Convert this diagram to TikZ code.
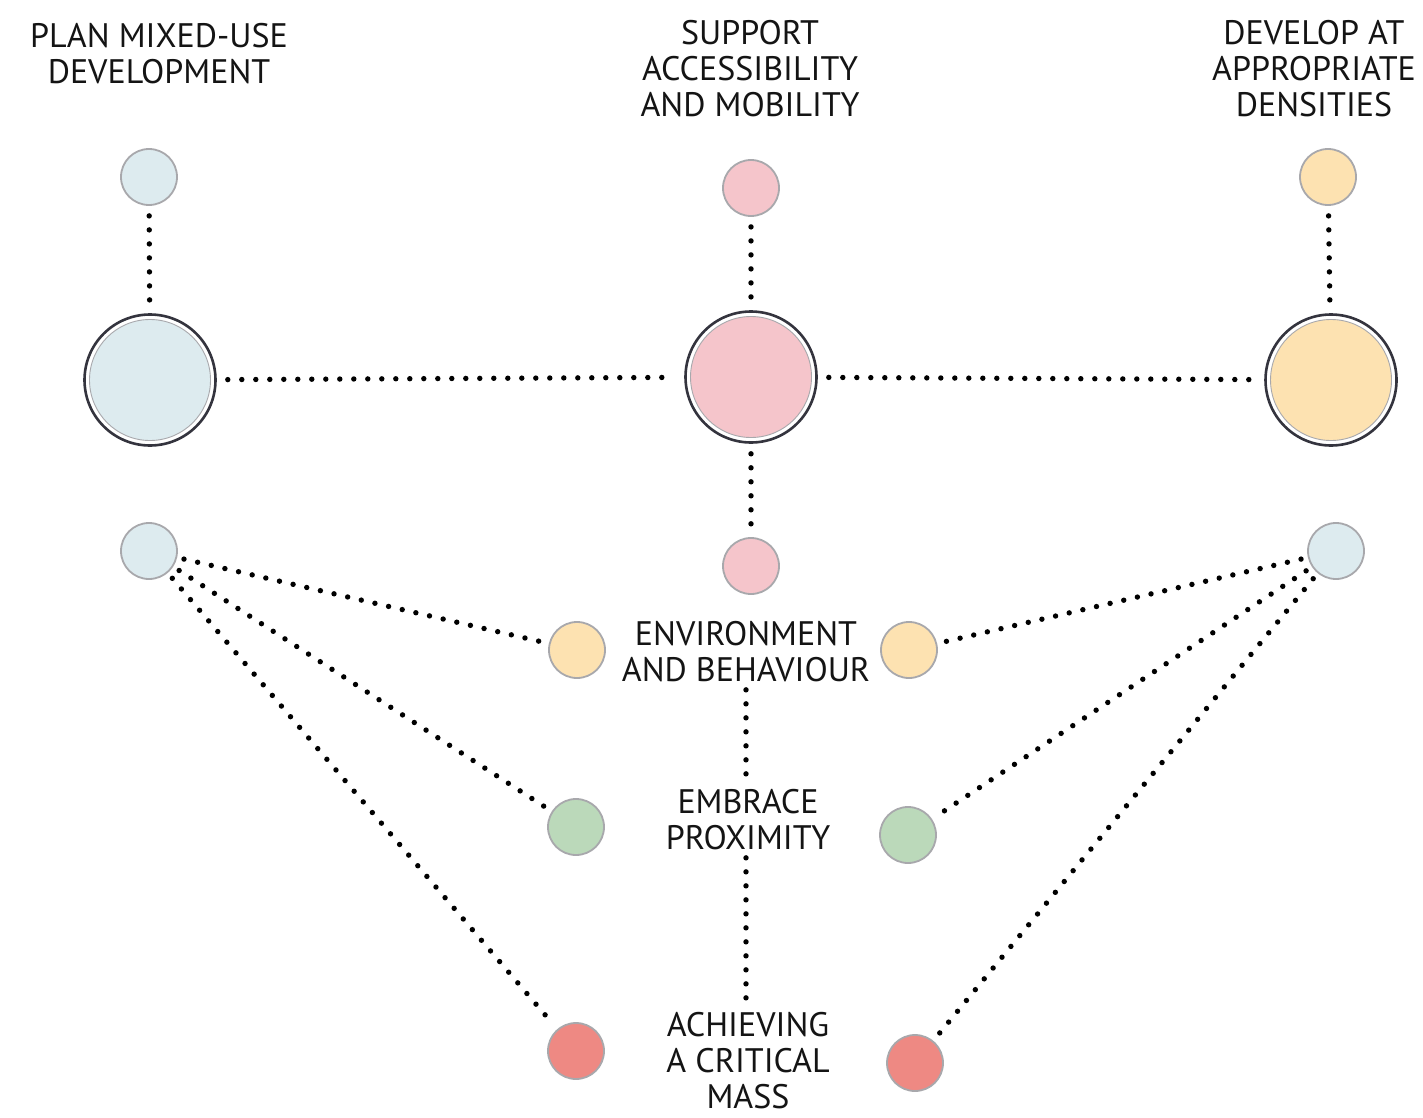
\documentclass[tikz,border=0pt]{standalone}
\usepackage{fontspec}
\setmainfont{PT Sans}
\definecolor{ringdark}{HTML}{34343E}
\definecolor{ringgray}{HTML}{A8A8AC}
\definecolor{cblue}{HTML}{DDEBEF}
\definecolor{cpink}{HTML}{F5C5CB}
\definecolor{cyellow}{HTML}{FDE2B1}
\definecolor{cgreen}{HTML}{BBD9BA}
\definecolor{cred}{HTML}{EE8983}
\begin{document}
\begin{tikzpicture}[x=1pt,y=-1pt,
  dotline/.style={line width=5.4pt, line cap=round, dash pattern=on 0pt off 14pt,
    draw=black, shorten <=#1, shorten >=#1},
  dotline/.default=8pt,
  smallc/.style={circle, minimum size=56pt, inner sep=0pt, fill=#1,
    draw=ringgray, line width=1.8pt},
  bigc/.style={circle, minimum size=131pt, inner sep=0pt, draw=ringdark,
    line width=2.6pt,
    path picture={\filldraw[fill=#1, draw=ringgray, line width=0.9pt]
      (path picture bounding box.center) circle[radius=60.5pt];}},
  caption/.style={align=center, font=\fontsize{34}{36}\selectfont, text=black!92}
]
\useasboundingbox[fill=white] (0,0) rectangle (1423,1118);

% headings
\node[caption] (tl) at (159,54) {PLAN MIXED-USE\\DEVELOPMENT};
\node[caption] (tm) at (750,69) {SUPPORT\\ACCESSIBILITY\\AND MOBILITY};
\node[caption] (tr) at (1314,69) {DEVELOP AT\\APPROPRIATE\\DENSITIES};

% top row of small circles
\node[smallc=cblue]   (ls1) at (149,177) {};
\node[smallc=cpink]   (ms1) at (751,188) {};
\node[smallc=cyellow] (rs1) at (1328,177) {};

% large circles
\node[bigc=cblue]   (lbig) at (150,380) {};
\node[bigc=cpink]   (mbig) at (751,377) {};
\node[bigc=cyellow] (rbig) at (1331,380) {};

% lower small circles
\node[smallc=cblue] (ls2) at (149,551) {};
\node[smallc=cpink] (ms2) at (751,566) {};
\node[smallc=cblue] (rs2) at (1336,551) {};

% side circles around the centre column
\node[smallc=cyellow] (ly) at (577,650) {};
\node[smallc=cyellow] (ry) at (909,650) {};
\node[smallc=cgreen]  (lg) at (576,827) {};
\node[smallc=cgreen]  (rg) at (908,835) {};
\node[smallc=cred]    (lr) at (576,1051) {};
\node[smallc=cred]    (rr) at (915,1063) {};

% centre column captions
\node[caption] (env) at (746,652) {ENVIRONMENT\\AND BEHAVIOUR};
\node[caption] (emb) at (748,820) {EMBRACE\\PROXIMITY};
\node[caption] (ach) at (748,1061) {ACHIEVING\\A CRITICAL\\MASS};

% vertical links
\draw[dotline=10pt] (ls1) -- (lbig);
\draw[dotline=10pt] (ms1) -- (mbig);
\draw[dotline=10pt] (rs1) -- (rbig);
\draw[dotline=10pt] (mbig) -- (ms2);

% horizontal links between the large circles
\draw[dotline=11pt] (lbig) -- (mbig);
\draw[dotline=11pt] (mbig) -- (rbig);

% fan-out links
\draw[dotline=7pt] (ls2) -- (ly);
\draw[dotline=7pt] (ls2) -- (lg);
\draw[dotline=7pt] (ls2) -- (lr);
\draw[dotline=7pt] (rs2) -- (ry);
\draw[dotline=7pt] (rs2) -- (rg);
\draw[dotline=7pt] (rs2) -- (rr);

% centre column links between captions
\draw[dotline=4pt] (env.south) -- (env.south |- emb.north);
\draw[dotline=4pt] (env.south |- emb.south) -- (env.south |- ach.north);
\end{tikzpicture}
\end{document}
